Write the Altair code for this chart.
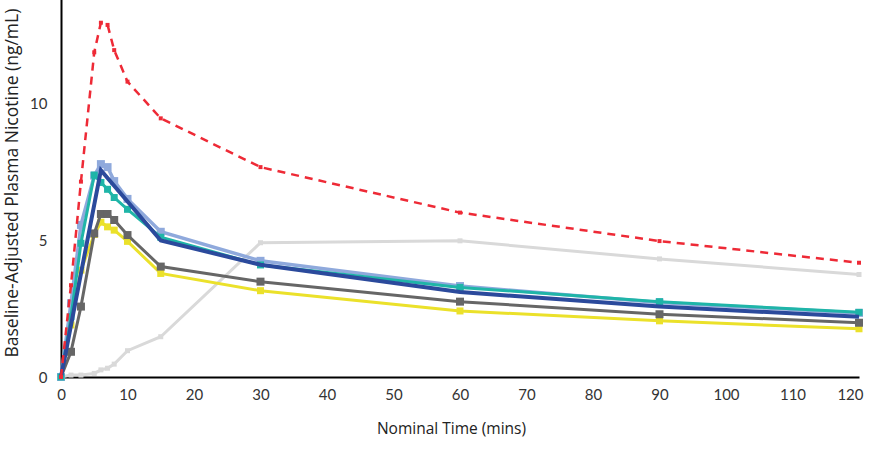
import altair as alt
import pandas as pd

# Sampling times (minutes)
times = [0, 1.5, 3, 5, 6, 7, 8, 10, 15, 30, 60, 90, 120]
times_blue = [0, 6, 15, 30, 60, 90, 120]

# Series values (ng/mL)
red_vals = [0, 3.35, 7.13, 11.85, 12.93, 12.85, 11.93, 10.78, 9.44, 7.66, 6.0, 4.96, 4.17]
lightgray_vals = [0, 0.07, 0.07, 0.13, 0.26, 0.32, 0.47, 0.96, 1.47, 4.9, 4.97, 4.31, 3.74]
lightblue_vals = [0, 2.69, 5.55, 7.35, 7.77, 7.66, 7.15, 6.5, 5.3, 4.24, 3.32, 2.72, 2.34]
teal_vals = [0, 2.2, 4.88, 7.37, 7.1, 6.85, 6.55, 6.12, 5.1, 4.09, 3.27, 2.75, 2.36]
gray_vals = [0, 0.92, 2.57, 5.24, 5.95, 5.95, 5.73, 5.18, 4.03, 3.48, 2.75, 2.29, 1.98]
yellow_vals = [0, 1.9, 3.9, 5.2, 5.65, 5.48, 5.36, 4.95, 3.78, 3.15, 2.41, 2.05, 1.76]
darkblue_vals = [0, 7.55, 4.98, 4.1, 3.1, 2.57, 2.2]

x_ticks = [0, 10, 20, 30, 40, 50, 60, 70, 80, 90, 100, 110, 120]
y_ticks = [0, 5, 10]

LABEL_FONT = "Lato"
TITLE_FONT = "Open Sans"

# (name, times, values, color, line width, dash, marker size)
series = [
    ("lightgray", times, lightgray_vals, "#d9d9d9", 3, None, 25),
    ("yellow", times, yellow_vals, "#ebe12a", 3, None, 49),
    ("gray", times, gray_vals, "#666666", 3, None, 64),
    ("lightblue", times, lightblue_vals, "#8fa9dc", 3.5, None, 64),
    ("teal", times, teal_vals, "#1fb5a8", 3, None, 49),
    ("darkblue", times_blue, darkblue_vals, "#2b4a9c", 4, None, 0),
    ("red", times, red_vals, "#ee2a36", 2.5, [8, 6], 16),
]

x_scale = alt.Scale(domain=[0, 120], nice=False, zero=True)
y_scale = alt.Scale(domain=[0, 15], nice=False)

x_axis = alt.Axis(
    values=x_ticks, grid=False, ticks=False, domainColor="#000000", domainWidth=2,
    labelFont=LABEL_FONT, labelFontSize=15, labelColor="#333333", labelPadding=10,
    labelAlign={"condition": {"test": "datum.value == 120", "value": "right"}, "value": "center"},
    labelOffset={"condition": {"test": "datum.value == 120", "value": 4}, "value": 0},
    title="Nominal Time (mins)", titleFont=TITLE_FONT, titleFontSize=15.5,
    titleFontWeight="normal", titleColor="#222222",
    titleX=390, titleY=44, titleAlign="center", titleBaseline="top", labelFlush=False,
)
y_axis = alt.Axis(
    values=y_ticks, grid=False, ticks=False, domainColor="#000000", domainWidth=2,
    labelFont=LABEL_FONT, labelFontSize=15, labelColor="#333333", labelPadding=14,
    title="Baseline-Adjusted Plasma Nicotine (ng/mL)", titleFont=TITLE_FONT,
    titleFontSize=17.5, titleFontWeight="normal", titleColor="#222222",
    titleAngle=270, titleX=-40, titleY=391, titleAlign="left", titleBaseline="bottom",
)

enc_x = alt.X("t:Q", scale=x_scale, axis=x_axis)
enc_y = alt.Y("v:Q", scale=y_scale, axis=y_axis)

layers = []
for name, ts, vals, color, width, dash, msize in series:
    df = pd.DataFrame({"t": ts, "v": vals})
    base = alt.Chart(df)
    line_kwargs = dict(color=color, strokeWidth=width, clip=False)
    if dash:
        line_kwargs["strokeDash"] = dash
    layers.append(base.mark_line(**line_kwargs).encode(x=enc_x, y=enc_y))
    if msize:
        layers.append(
            base.mark_square(color=color, size=msize, opacity=1).encode(x=enc_x, y=enc_y)
        )

chart = alt.layer(*layers).properties(
    width=798,
    height=411,
    autosize="none",
    padding={"left": 61, "top": -34, "right": 10, "bottom": 73},
).configure_view(stroke=None)

chart.save("out.html", embed_options={"renderer": "svg", "actions": False})
